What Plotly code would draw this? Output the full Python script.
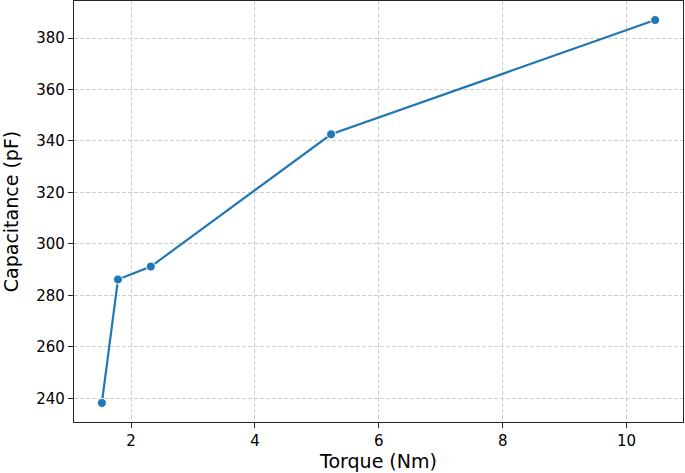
import plotly.graph_objects as go

# data
torque = [1.53, 1.79, 2.32, 5.23, 10.46]
capacitance = [238.2, 286.2, 291.2, 342.6, 387.0]

x_ticks = [2, 4, 6, 8, 10]
y_ticks = [240, 260, 280, 300, 320, 340, 360, 380]

fig = go.Figure()

fig.add_trace(go.Scatter(
    x=torque,
    y=capacitance,
    mode='lines+markers',
    line=dict(color='#1f77b4', width=2.2),
    marker=dict(color='#1f77b4', size=9, line=dict(color='white', width=1)),
    showlegend=False,
))

axis_common = dict(
    showline=True, linecolor='#262626', linewidth=1.2, mirror=True,
    ticks='outside', ticklen=5, tickwidth=1, tickcolor='#262626',
    showgrid=True, gridcolor='#cfcfcf', griddash='4px,2px', gridwidth=1,
    zeroline=False, automargin=False,
    tickfont=dict(family='DejaVu Sans', size=15, color='black'),
)

fig.update_xaxes(
    range=[1.08, 10.91], tickvals=x_ticks,
    title=dict(text='Torque (Nm)', font=dict(family='DejaVu Sans', size=19, color='black'), standoff=2),
    **axis_common,
)
fig.update_yaxes(
    range=[230.8, 394.4], tickvals=y_ticks,
    title=dict(text='Capacitance (pF)', font=dict(family='DejaVu Sans', size=19, color='black'), standoff=12),
    **axis_common,
)

fig.update_layout(
    width=685, height=473,
    margin=dict(l=74, r=2, t=1, b=51, autoexpand=False),
    plot_bgcolor='white', paper_bgcolor='white',
)

# page has a default body margin; drop it so the figure sits at the corner
fig.write_html("out.html", config={'displayModeBar': False},
               post_script="document.body.style.margin='0';document.body.style.overflow='hidden';")
